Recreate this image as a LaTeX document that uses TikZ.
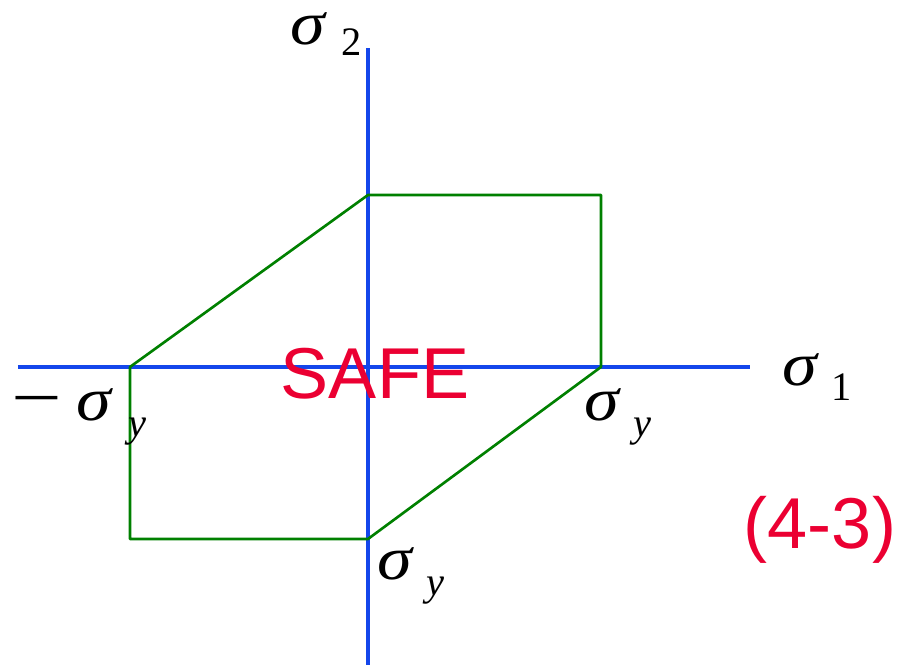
\documentclass[tikz,border=0pt]{standalone}
\usepackage{fontspec}
\setmainfont{Liberation Serif}
\newfontfamily\safefont{Liberation Sans}
\definecolor{axisblue}{RGB}{20,70,235}
\definecolor{lawngreen}{RGB}{0,128,0}
\definecolor{safered}{RGB}{235,0,50}
\tikzset{
  axis/.style={axisblue,line width=0.9pt},
  yieldline/.style={lawngreen,line width=0.75pt,line join=round},
  stresslabel/.style={inner sep=0pt,font=\fontsize{16}{16}\selectfont\itshape},
  redtext/.style={inner sep=0pt,safered,font=\safefont\fontsize{20.5}{20.5}\selectfont}
}
\newcommand{\sig}{\scalebox{1.25}[1.1]{σ}}
\newcommand{\sub}[1]{{\fontsize{11.5}{11.5}\selectfont #1}}
\begin{document}
\begin{tikzpicture}
  \useasboundingbox (-3.68,-2.98) rectangle (5.40,3.67);
  % Axes
  \draw[axis] (-3.50,0) -- (3.82,0);
  \draw[axis] (0,-2.98) -- (0,3.19);

  % Yield envelope
  \draw[yieldline] (-2.38,0) -- (0,1.72) -- (2.33,1.72) -- (2.33,0)
    -- (0,-1.72) -- (-2.38,-1.72) -- cycle;

  % Labels
  \node[stresslabel] (s2) at (-0.42,3.33) {\sig\hspace{0.3em}\raisebox{-0.45ex}{\upshape\sub{2}}};
  \node[stresslabel] (s1) at (4.49,-0.10) {\sig\hspace{0.25em}\raisebox{-0.6ex}{\upshape\sub{1}}};
  \node[stresslabel] (msy) at (-2.89,-0.50) {\upshape\scalebox{1.6}[1.2]{−}\hspace{0.25em}\itshape \sig\hspace{0.3em}\raisebox{-0.65ex}{\sub{y}}};
  \node[stresslabel] (sy1) at (2.50,-0.50) {\sig\hspace{0.25em}\raisebox{-0.65ex}{\sub{y}}};
  \node[stresslabel] (sy2) at (0.43,-2.09) {\sig\hspace{0.25em}\raisebox{-0.65ex}{\sub{y}}};

  \node[redtext] (safe) at (0.07,-0.07) {SAFE};
  \node[redtext] (eqno) at (4.52,-1.63) {(4-3)};
\end{tikzpicture}
\end{document}
